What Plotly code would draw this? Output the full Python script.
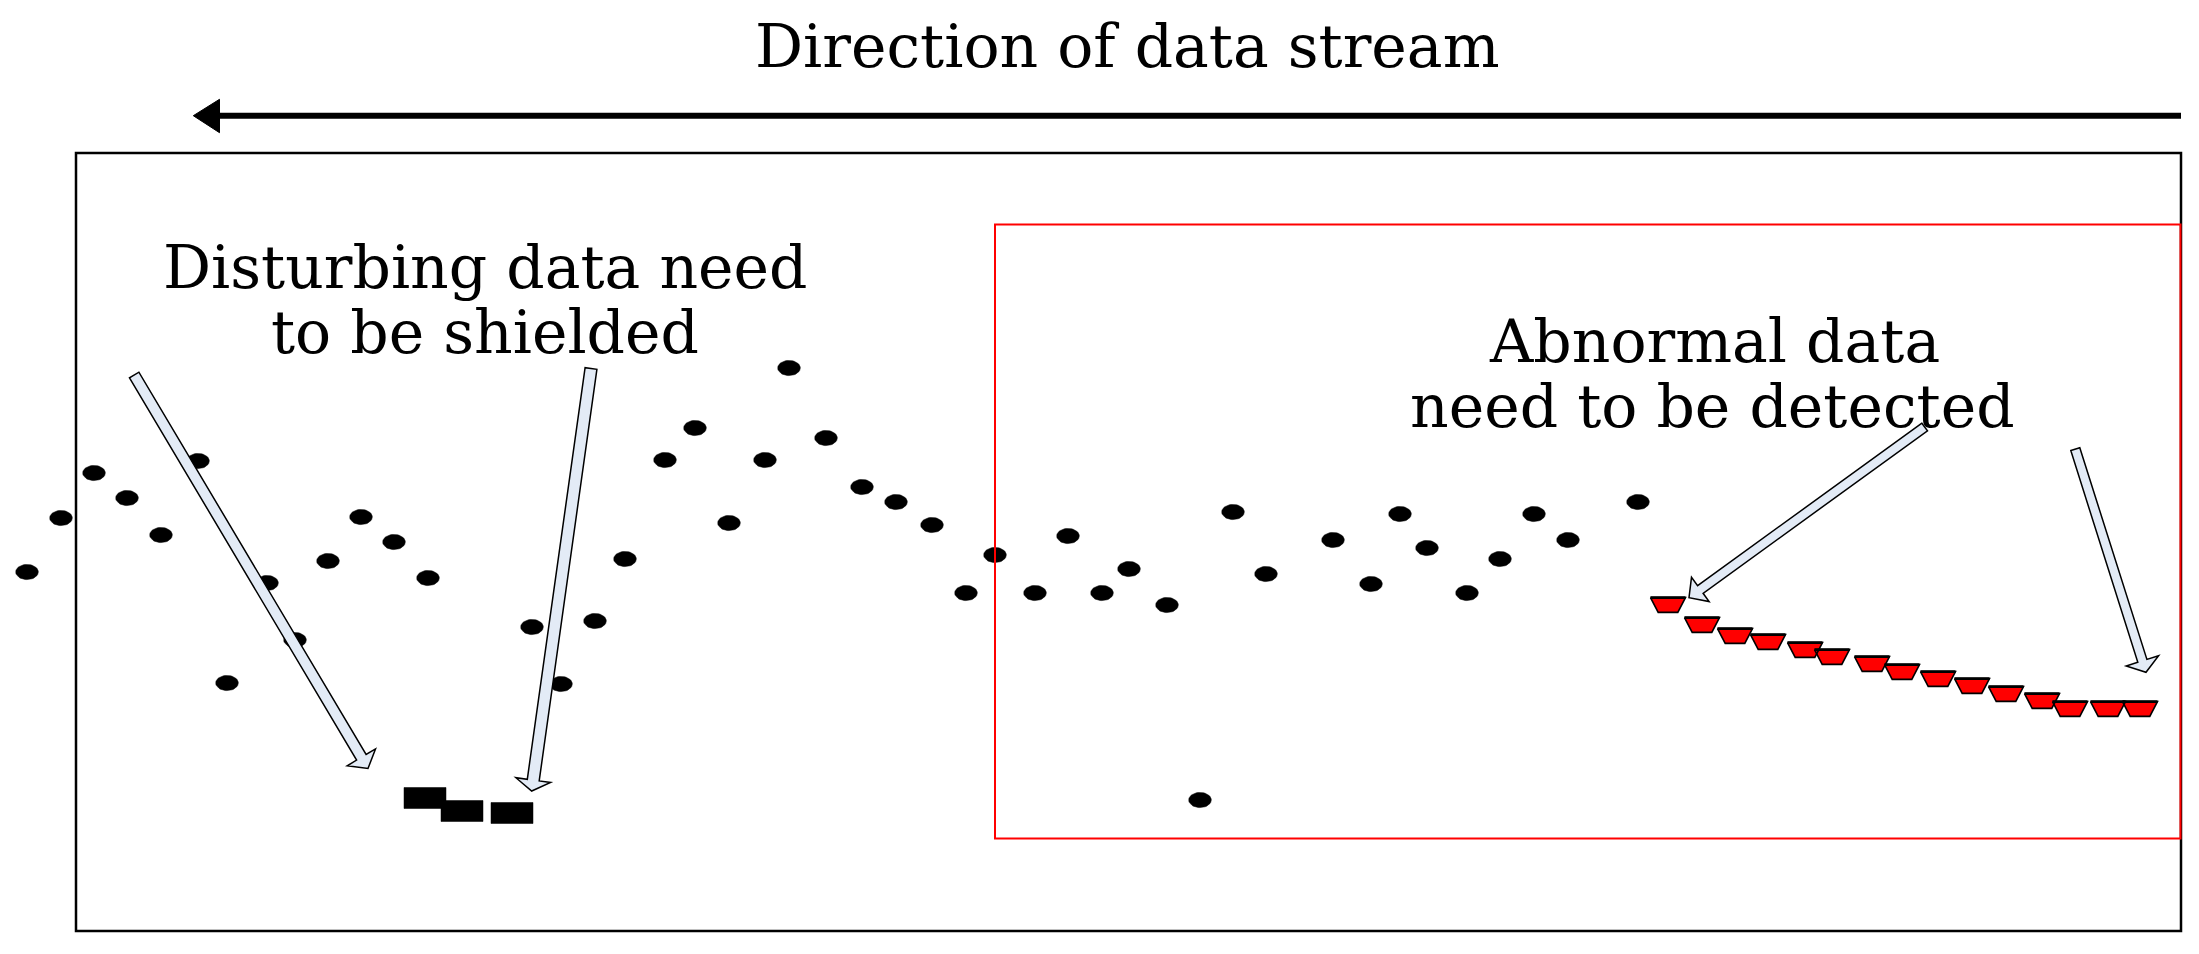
import numpy as np
import plotly.graph_objects as go

# ---- data (x: stream position, y: value on a top-down scale) ----
dot_x = [27, 61, 94, 127, 161, 198, 227, 267, 295, 328, 361, 394, 428, 532, 561,
         595, 625, 665, 695, 729, 765, 789, 826, 862, 896, 932, 966, 995, 1035, 1068,
         1102, 1129, 1167, 1200, 1233, 1266, 1333, 1371, 1400, 1427, 1467, 1500, 1534, 1568, 1638]
dot_y = [572, 518, 473, 498, 535, 461, 683, 583, 640, 561, 517, 542, 578, 627, 684,
         621, 559, 460, 428, 523, 460, 368, 438, 487, 502, 525, 593, 555, 593, 536,
         593, 569, 605, 800, 512, 574, 540, 584, 514, 548, 593, 559, 514, 540, 502]

shield_x = [425, 462, 512]
shield_y = [798, 811, 813]

abn_x = [1668, 1702, 1735, 1768, 1805, 1832, 1872, 1902, 1938, 1972, 2006, 2042, 2070, 2108, 2140]
abn_y = [605, 625, 636, 642, 650, 657, 664, 672, 679, 686, 694, 701, 709, 709, 709]

title_text = "Direction of data stream"
left_lines = ["Disturbing data need", "to be shielded"]
right_lines = ["Abnormal data", "need to be detected"]

W, H = 2199, 954
PAD = 8  # page body margin of the html page
FONT = "DejaVu Serif"
FS = 60
ARROW_FILL = "#E3EBF6"


def polys(xs, ys, offsets):
    px, py = [], []
    for cx, cy in zip(xs, ys):
        for ox, oy in offsets:
            px.append(cx + ox)
            py.append(cy + oy)
        px.append(cx + offsets[0][0])
        py.append(cy + offsets[0][1])
        px.append(None)
        py.append(None)
    return px, py


t = np.linspace(0, 2 * np.pi, 40, endpoint=False)
ell = list(zip(11.3 * np.cos(t), 7.6 * np.sin(t)))
rect = [(-21, -10.5), (21, -10.5), (21, 10.5), (-21, 10.5)]
trap = [(-17.5, -7.4), (17.5, -7.4), (9.8, 7.4), (-9.8, 7.4)]

fig = go.Figure()

ex, ey = polys(dot_x, dot_y, ell)
fig.add_trace(go.Scatter(x=ex, y=ey, mode="lines", fill="toself", fillcolor="black",
                         line=dict(color="black", width=0.5), hoverinfo="skip", showlegend=False))

sx, sy = polys(shield_x, shield_y, rect)
fig.add_trace(go.Scatter(x=sx, y=sy, mode="lines", fill="toself", fillcolor="black",
                         line=dict(color="black", width=0.5), hoverinfo="skip", showlegend=False))

tx, ty = polys(abn_x, abn_y, trap)
fig.add_trace(go.Scatter(x=tx, y=ty, mode="lines", fill="toself", fillcolor="#FF0000",
                         line=dict(color="black", width=1.6), hoverinfo="skip", showlegend=False))
topx, topy = polys(abn_x, abn_y, [(-17.5, -7.4), (17.5, -7.4)])
fig.add_trace(go.Scatter(x=topx, y=topy, mode="lines",
                         line=dict(color="black", width=2.6), hoverinfo="skip", showlegend=False))


def block_arrow(tail, tip, sw, hw, hl):
    tail = np.array(tail, float)
    tip = np.array(tip, float)
    d = tip - tail
    u = d / np.linalg.norm(d)
    n = np.array([-u[1], u[0]])
    base = tip - u * hl
    pts = [tail + n * sw / 2, base + n * sw / 2, base + n * hw / 2, tip,
           base - n * hw / 2, base - n * sw / 2, tail - n * sw / 2]
    return "M " + " L ".join(f"{p[0]:.1f},{p[1]:.1f}" for p in pts) + " Z"


shapes = []
# outer frame
shapes.append(dict(type="rect", xref="x", yref="y", x0=76, x1=2181, y0=153, y1=931,
                   line=dict(color="black", width=2.5)))
# red detection window
shapes.append(dict(type="rect", xref="x", yref="y", x0=995, x1=2180.5, y0=224.5, y1=838.5,
                   line=dict(color="#FF0000", width=2)))
# stream direction arrow
shapes.append(dict(type="line", xref="x", yref="y", x0=217, x1=2181, y0=115.7, y1=115.7,
                   line=dict(color="black", width=6)))
shapes.append(dict(type="path", xref="x", yref="y",
                   path="M 193.3,115.7 L 219.5,99.3 L 219.5,132.7 Z",
                   fillcolor="black", line=dict(color="black", width=1)))
# block arrows
for tail, tip, sw, hw, hl in [((134.2, 375), (368, 768.5), 11, 33, 13),
                              ((591, 368.5), (531.7, 791), 12, 35, 11),
                              ((1924.7, 427), (1689, 597.7), 9.5, 30, 14),
                              ((2075.3, 449.2), (2146, 672.3), 9.5, 34, 12)]:
    shapes.append(dict(type="path", xref="x", yref="y", path=block_arrow(tail, tip, sw, hw, hl),
                       fillcolor=ARROW_FILL, line=dict(color="black", width=1.5)))

annotations = []


def txt(s, x, y):
    annotations.append(dict(text=s, x=x, y=y, xref="x", yref="y", showarrow=False,
                            xanchor="center", yanchor="middle",
                            font=dict(family=FONT, size=FS, color="black")))


txt(title_text, 1127, 46)
txt(left_lines[0], 485, 267)
txt(left_lines[1], 485, 332)
txt(right_lines[0], 1714, 341)
txt(right_lines[1], 1712, 406)

fig.update_layout(
    width=W - 2 * PAD, height=H - 2 * PAD, margin=dict(l=0, r=0, t=0, b=0),
    paper_bgcolor="white", plot_bgcolor="white",
    xaxis=dict(range=[PAD, W - PAD], visible=False, fixedrange=True),
    yaxis=dict(range=[H - PAD, PAD], visible=False, fixedrange=True),
    shapes=shapes, annotations=annotations, showlegend=False, hovermode=False,
)

fig.write_html("out.html")
